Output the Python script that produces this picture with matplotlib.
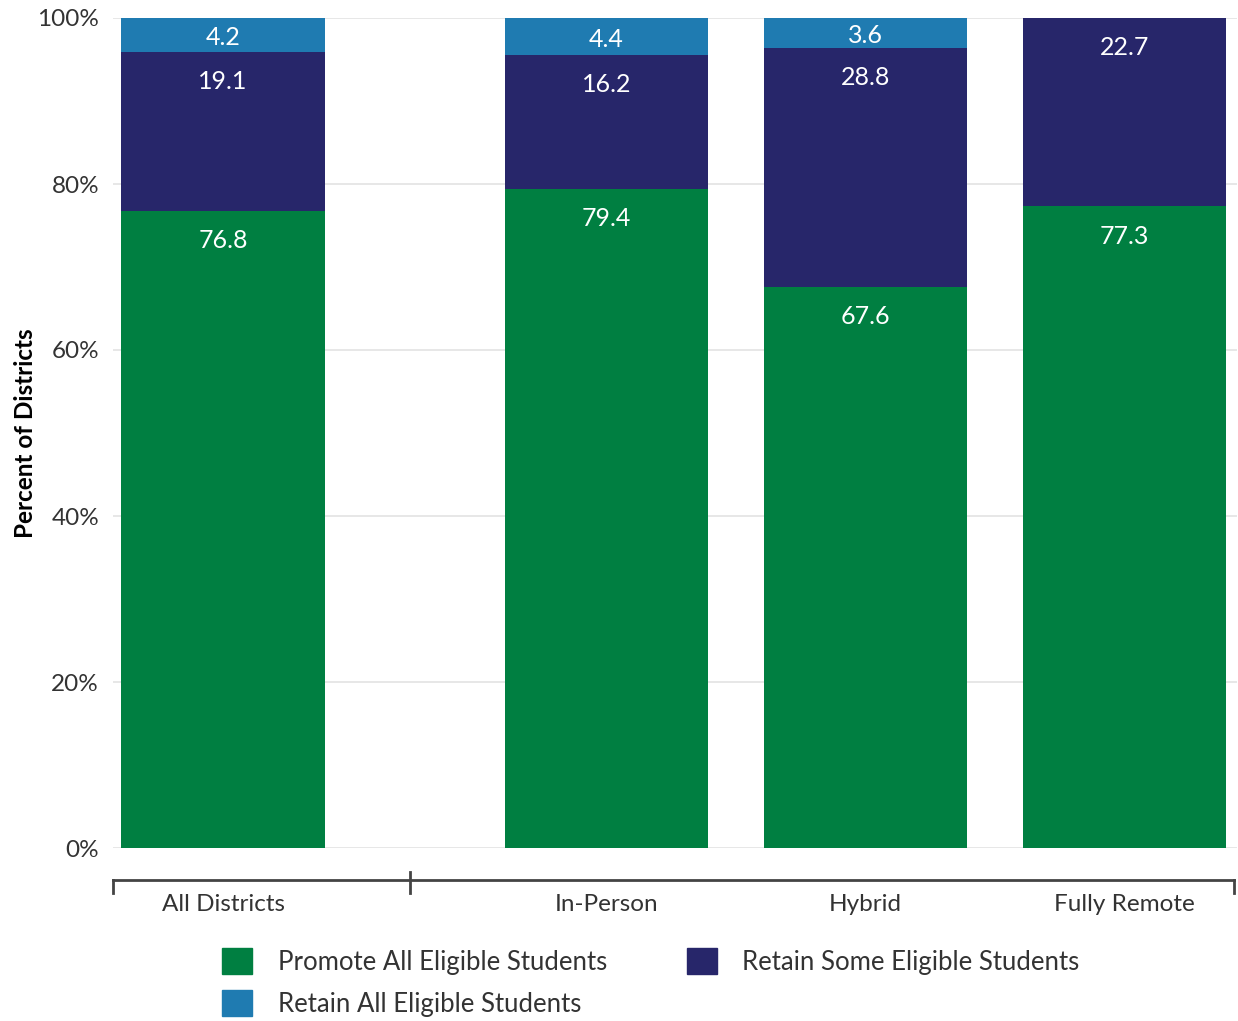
import matplotlib
matplotlib.use("Agg")
import matplotlib.pyplot as plt
from matplotlib.patches import Patch
import numpy as np

plt.rcParams['font.family'] = ['Lato', 'DejaVu Sans']

# data
categories = ["All Districts", "In-Person", "Hybrid", "Fully Remote"]
promote_all = [76.8, 79.4, 67.6, 77.3]
retain_some = [19.1, 16.2, 28.8, 22.7]
retain_all = [4.2, 4.4, 3.6, 0.0]
series_names = ["Promote All Eligible Students", "Retain Some Eligible Students",
                "Retain All Eligible Students"]

colors = ["#007f41", "#27266a", "#1f7bb1"]
text_col = "#333333"

# first group stands apart from the learning-mode groups
xpos = np.array([0.0, 1.48, 2.48, 3.48])
width = 0.785

fig = plt.figure(figsize=(12.38, 10.21), dpi=100)
ax = fig.add_axes([113 / 1238, 173 / 1021, 1124 / 1238, 830 / 1021])

bottom = np.zeros(len(categories))
for vals, col in zip([promote_all, retain_some, retain_all], colors):
    vals = np.array(vals)
    ax.bar(xpos, vals, width, bottom=bottom, color=col, edgecolor='none', zorder=2)
    for x, b, v in zip(xpos, bottom, vals):
        if v <= 0:
            continue
        top = b + v
        if v < 8:
            ax.annotate(f"{v:.1f}", (x, b + v / 2), xytext=(0, -2), textcoords='offset points',
                        ha='center', va='center', color='white', fontsize=18, zorder=3)
        else:
            ax.annotate(f"{v:.1f}", (x, top), xytext=(0, -21.5), textcoords='offset points',
                        ha='center', va='center', color='white', fontsize=18, zorder=3)
    bottom = bottom + vals

ax.set_ylim(0, 100)
ax.set_xlim(-0.425, 3.915)
ax.set_yticks([0, 20, 40, 60, 80, 100])
ax.set_yticklabels([f"{t}%" for t in [0, 20, 40, 60, 80, 100]])
ax.yaxis.grid(True, color='#e3e3e3', linewidth=1.2, zorder=0)
ax.set_axisbelow(True)
for s in ax.spines.values():
    s.set_visible(False)
ax.tick_params(axis='y', length=0, pad=10, labelsize=17.5, labelcolor=text_col)

ax.set_xticks(xpos)
ax.set_xticklabels(categories)
ax.tick_params(axis='x', length=0, pad=33, labelsize=17.5, labelcolor=text_col)

ax.set_ylabel("Percent of Districts", fontsize=17.5, fontweight='bold', color='black')
ax.yaxis.set_label_coords(-76 / 1124, 0.5)

# bracket under the categories
tr = ax.get_xaxis_transform()
yb = -32 / 830
ytk = -45 / 830
ax.plot([-0.425, 3.905], [yb, yb], transform=tr, color='#444444', lw=2, clip_on=False)
ax.plot([-0.425, -0.425], [yb, ytk], transform=tr, color='#444444', lw=2, clip_on=False)
ax.plot([3.905, 3.905], [yb, ytk], transform=tr, color='#444444', lw=2, clip_on=False)
ax.plot([0.722, 0.722], [-24 / 830, ytk], transform=tr, color='#444444', lw=2, clip_on=False)

handles = [Patch(color=colors[0], label=series_names[0]),
           Patch(color=colors[2], label=series_names[2]),
           Patch(color=colors[1], label=series_names[1])]
fig.legend(handles=handles, ncol=2, loc='upper left', bbox_to_anchor=(222 / 1238, 1 - 948 / 1021),
           frameon=False, fontsize=18.5, handlelength=1.17, handleheight=1.17, borderpad=0,
           borderaxespad=0, handletextpad=1.0, columnspacing=3.1, labelspacing=0.6,
           labelcolor=text_col)

fig.savefig("out.png", dpi=100)
